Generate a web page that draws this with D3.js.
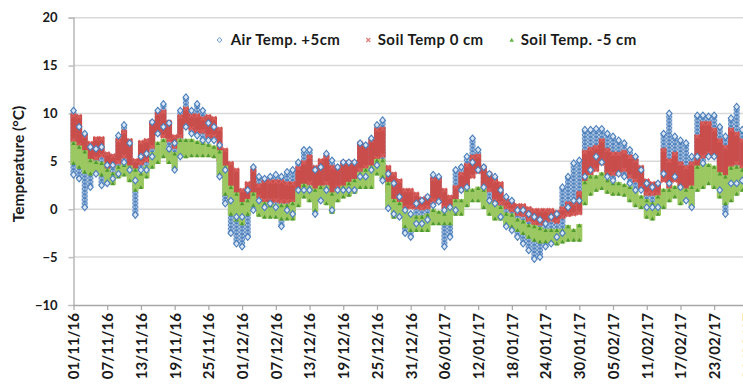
<!DOCTYPE html>
<html>
<head>
<meta charset="utf-8">
<script src="https://cdn.jsdelivr.net/npm/d3@7"></script>
<style>
  html, body { margin: 0; padding: 0; background: #fff; overflow: hidden; }
  svg { display: block; font-family: Lato, "Open Sans", sans-serif; font-weight: bold; }
</style>
</head>
<body>
<svg id="chart" width="760" height="385"></svg>
<script>
// Daily temperature ranges (°C), one value per day from 01/11/16.
const startDate = "2016-11-01";

const airHi = [10.3, 8.6, 7.9, 6.5, 6.3, 6.5, 4.6, 4.6, 7.7, 8.8,
  6.9, 3.0, 5.5, 5.8, 9.1, 10.3, 11.0, 9.0, 6.9, 10.3,
  11.7, 10.3, 11.0, 10.3, 9.0, 8.6, 6.7, 4.1, 0.9, -0.8,
  -0.8, 2.0, 4.4, 3.4, 3.2, 3.4, 3.6, 3.4, 3.9, 4.1,
  4.9, 6.2, 6.2, 4.1, 4.4, 5.8, 5.1, 4.4, 4.9, 4.9,
  4.9, 6.9, 6.7, 7.4, 8.8, 9.3, 3.7, 2.7, 1.3, -0.1,
  -0.5, 0.6, 0.9, 1.3, 3.6, 3.4, -0.1, 0.2, 4.1, 4.4,
  5.5, 7.4, 6.2, 4.4, 3.7, 3.4, 2.0, 1.3, 0.9, -0.1,
  -0.1, -0.5, -0.8, -1.1, -1.5, -0.8, -0.5, 2.3, 3.4, 4.8,
  5.1, 8.3, 8.3, 8.4, 8.4, 7.9, 7.6, 7.2, 6.9, 6.2,
  5.5, 4.1, 2.7, 2.3, 2.7, 7.9, 10.0, 7.6, 7.2, 6.9,
  5.5, 9.8, 9.8, 9.7, 9.8, 8.6, 7.6, 9.5, 10.7, 8.3];

const airLo = [3.6, 3.2, 0.2, 2.3, 3.7, 2.5, 2.7, 3.2, 3.7, 4.9,
  4.1, -0.6, 4.1, 4.1, 5.5, 7.9, 8.6, 6.3, 4.1, 5.5,
  8.6, 7.9, 7.7, 7.2, 7.2, 7.2, 3.4, 0.6, -2.5, -3.6,
  -3.9, -2.9, -0.1, 0.9, 0.2, 0.6, 0.2, -1.8, -0.1, -0.5,
  2.0, 2.0, 2.0, -0.5, 0.9, 2.0, -0.1, 2.0, 2.0, 2.0,
  2.0, 3.4, 3.4, 4.1, 4.6, 3.0, 0.1, -0.5, -0.8, -2.5,
  -2.9, -1.5, -1.5, -1.1, 0.4, 0.8, -3.9, -2.9, -0.1, 2.0,
  2.3, 4.9, 4.1, 2.3, 0.9, 0.6, -0.8, -1.8, -2.2, -2.9,
  -3.6, -4.3, -5.2, -5.0, -3.9, -3.6, -2.9, -2.5, 0.2, 0.9,
  0.9, 3.4, 4.1, 5.5, 4.9, 3.4, 3.0, 3.7, 3.4, 2.7,
  2.0, 2.0, 0.2, 0.2, 0.2, 3.7, 2.7, 3.4, 2.3, 0.9,
  0.2, 5.5, 4.8, 5.5, 5.5, 2.0, -0.5, 2.7, 2.7, 3.0];

const soil0Hi = [9.8, 9.7, 7.7, 6.9, 7.4, 7.4, 5.8, 5.6, 7.2, 8.1,
  7.2, 5.1, 7.0, 7.2, 9.1, 10.0, 10.2, 9.1, 7.6, 9.7,
  10.5, 9.8, 9.8, 9.5, 9.7, 9.5, 8.4, 6.2, 4.8, 4.1,
  2.0, 2.7, 4.1, 2.5, 3.0, 2.9, 2.9, 2.9, 2.7, 2.7,
  4.3, 4.9, 5.5, 4.4, 5.1, 5.5, 4.4, 4.4, 4.9, 4.9,
  4.9, 6.9, 6.7, 7.2, 8.3, 8.4, 4.4, 3.7, 3.0, 2.0,
  2.0, 1.6, 1.1, 1.3, 3.2, 3.2, 2.0, 1.3, 2.3, 3.7,
  4.6, 5.5, 5.6, 4.4, 3.7, 3.0, 2.7, 0.9, 0.6, 0.4,
  0.4, 0.1, -0.1, -0.1, -0.1, -0.1, -0.3, 0.1, 0.6, 0.6,
  1.7, 6.0, 6.3, 6.5, 7.2, 6.2, 5.8, 5.8, 6.0, 5.5,
  5.1, 4.4, 3.0, 2.7, 2.7, 6.2, 5.1, 5.8, 4.8, 4.4,
  4.8, 7.6, 9.0, 9.0, 8.3, 7.2, 6.5, 8.3, 7.9, 7.2];

const soil0Lo = [7.2, 6.7, 4.9, 4.9, 5.3, 5.6, 4.3, 4.6, 4.9, 5.5,
  4.4, 3.9, 4.8, 5.1, 6.5, 7.9, 7.6, 7.2, 6.5, 7.6,
  8.6, 8.4, 8.1, 8.1, 7.6, 7.6, 5.1, 3.4, 0.6, -0.1,
  0.2, 0.9, 1.3, 1.3, 0.9, 0.9, 0.9, 0.8, 0.8, 0.8,
  1.8, 2.3, 2.7, 2.0, 2.3, 2.7, 1.6, 2.3, 2.3, 2.3,
  2.3, 4.1, 4.4, 4.4, 5.3, 5.6, 2.0, 0.9, 0.9, 0.2,
  0.2, 0.2, 0.1, 0.2, 0.9, 0.8, 0.2, -0.1, 0.6, 2.0,
  2.3, 3.4, 3.9, 2.3, 2.0, 0.9, 0.6, 0.2, -0.1, -0.5,
  -0.6, -1.1, -1.5, -1.5, -1.3, -1.1, -1.3, -0.8, -0.6, -0.5,
  -0.4, 2.5, 3.7, 4.1, 4.8, 3.7, 3.7, 3.7, 4.1, 3.4,
  3.0, 2.3, 1.6, 1.6, 1.5, 3.0, 2.3, 3.0, 2.3, 2.0,
  2.3, 4.1, 5.5, 5.8, 5.5, 3.7, 3.4, 4.4, 4.8, 4.4];

const soil5Hi = [6.9, 6.5, 6.0, 5.1, 4.9, 4.8, 4.1, 3.7, 4.4, 4.6,
  4.4, 4.1, 3.7, 4.4, 5.8, 6.9, 7.2, 6.2, 5.8, 7.2,
  7.2, 7.2, 7.0, 6.9, 6.7, 6.5, 6.0, 4.4, 2.3, 1.6,
  0.6, 0.9, 1.6, 0.9, 0.6, 0.4, 0.4, 0.4, 0.4, 0.6,
  2.0, 2.5, 2.3, 2.0, 2.3, 2.3, 1.6, 2.0, 2.3, 2.7,
  3.0, 3.7, 4.1, 4.4, 5.1, 5.1, 2.7, 0.9, 0.6, -0.1,
  -0.5, -0.8, -0.8, -0.6, -0.1, -0.3, -0.5, 0.2, 0.9, 0.9,
  2.0, 2.0, 2.2, 2.0, 0.9, 0.6, 0.2, -0.5, -0.6, -1.1,
  -1.3, -1.7, -1.8, -2.0, -2.2, -2.2, -2.2, -2.2, -1.8, -2.2,
  -1.7, 2.8, 3.4, 3.4, 3.7, 3.0, 2.7, 2.7, 2.5, 2.3,
  2.0, 1.3, 0.9, 0.6, 1.3, 2.0, 2.0, 2.3, 2.2, 2.0,
  2.3, 4.4, 4.8, 4.6, 4.4, 3.7, 3.4, 4.3, 4.4, 4.1];

const soil5Lo = [4.8, 4.4, 3.9, 3.7, 3.9, 3.6, 2.9, 2.7, 3.4, 3.6,
  3.0, 2.0, 2.3, 3.4, 4.4, 4.9, 5.5, 4.9, 4.4, 5.5,
  5.5, 5.6, 5.6, 5.6, 5.6, 5.5, 3.7, 1.6, -0.5, -1.1,
  -1.5, -0.5, 0.4, -0.6, -0.8, -0.8, -0.8, -1.0, -1.0, -1.0,
  0.4, 1.3, 0.9, -0.1, 0.9, 0.6, -0.3, 0.9, 1.3, 1.5,
  1.8, 2.3, 2.3, 2.3, 3.7, 3.4, 0.2, -0.8, -0.8, -1.8,
  -2.2, -2.2, -2.2, -2.2, -1.5, -1.5, -1.5, -1.5, -0.5, -0.5,
  0.4, 0.9, 0.9, 0.2, -0.5, -1.0, -1.0, -1.5, -1.8, -2.2,
  -2.5, -2.9, -3.2, -3.4, -3.4, -3.4, -3.6, -3.4, -3.2, -3.2,
  -3.2, 0.6, 1.6, 2.0, 2.2, 1.8, 1.6, 1.6, 1.5, 0.9,
  0.4, 0.2, -0.8, -1.0, -0.5, 0.2, 0.9, 1.3, 0.6, 0.9,
  0.4, 2.0, 2.3, 2.7, 2.3, 1.3, 0.6, 0.9, 1.6, 2.0];

const tickLabels = ["01/11/16", "07/11/16", "13/11/16", "19/11/16", "25/11/16",
  "01/12/16", "07/12/16", "13/12/16", "19/12/16", "25/12/16", "31/12/16",
  "06/01/17", "12/01/17", "18/01/17", "24/01/17", "30/01/17", "05/02/17",
  "11/02/17", "17/02/17", "23/02/17", "01/03/17"];

const yTicks = [-10, -5, 0, 5, 10, 15, 20];

const seriesNames = ["Air Temp. +5cm", "Soil Temp 0 cm", "Soil Temp. -5 cm"];

// ---------------------------------------------------------------------------
const svg = d3.select("#chart");
const parseIso = d3.utcParse("%Y-%m-%d");
const parseTick = d3.utcParse("%d/%m/%y");
const start = parseIso(startDate);
const days = d3.utcDay.range(start, d3.utcDay.offset(start, airHi.length));
const tickDates = tickLabels.map(parseTick);

const plotLeft = 73.5;
const x = d3.scaleUtc()
  .domain([start, d3.utcDay.offset(start, 120)])
  .range([plotLeft, 747.9]);
const y = d3.scaleLinear().domain([-10, 20]).range([305, 17.7]);
const dayW = x(days[1]) - x(days[0]);

// gridlines
svg.append("g")
  .selectAll("line")
  .data(yTicks.filter(v => v !== -10))
  .join("line")
  .attr("x1", plotLeft).attr("x2", 760)
  .attr("y1", d => y(d)).attr("y2", d => y(d))
  .attr("stroke", "#d9d9d9").attr("stroke-width", 1.5);

// y axis
const yAxis = svg.append("g")
  .attr("transform", `translate(${plotLeft},0)`)
  .call(d3.axisLeft(y).tickValues(yTicks).tickSize(5).tickPadding(4).tickFormat(d3.format("d")));
yAxis.select(".domain").attr("stroke", "#a6a6a6").attr("stroke-width", 1.2);
yAxis.selectAll(".tick line").attr("stroke", "#bfbfbf").attr("stroke-width", 1.5);
yAxis.selectAll(".tick text")
  .attr("font-family", "Lato, sans-serif").attr("font-weight", "bold")
  .attr("font-size", 13).attr("fill", "#1a1a1a").attr("x", -16);

// x axis
const xAxis = svg.append("g")
  .attr("transform", `translate(0,${y(-10)})`)
  .call(d3.axisBottom(x).tickValues(tickDates).tickSize(5)
    .tickFormat((d, i) => tickLabels[i]));
xAxis.select(".domain").attr("stroke", "#a6a6a6").attr("stroke-width", 1.5)
  .attr("d", `M${plotLeft},0.5H760`);
xAxis.selectAll(".tick line").attr("stroke", "#a6a6a6").attr("stroke-width", 1.2);
xAxis.selectAll(".tick text")
  .attr("font-family", "Lato, sans-serif").attr("font-weight", "bold")
  .attr("font-size", 15).attr("fill", "#1a1a1a")
  .attr("text-anchor", "end")
  .attr("transform", "rotate(-90)")
  .attr("x", -8).attr("y", 0).attr("dy", "0.36em");

// y title
svg.append("text")
  .attr("transform", "translate(19,164) rotate(-90)")
  .attr("text-anchor", "middle").attr("dy", "0.35em")
  .attr("font-size", 15.5).attr("fill", "#1a1a1a")
  .text("Temperature (°C)");

// ---------------------------------------------------------------------------
// marker shapes
const diamondPath = (cx, cy, hw, hh) => `M${cx},${cy - hh}L${cx + hw},${cy}L${cx},${cy + hh}L${cx - hw},${cy}Z`;
const crossPath = (cx, cy, r) => `M${cx - r},${cy - r}L${cx + r},${cy + r}M${cx - r},${cy + r}L${cx + r},${cy - r}`;
const triPath = (cx, cy, r) => `M${cx},${cy - r}L${cx + r},${cy + r * 0.8}L${cx - r},${cy + r * 0.8}Z`;

// stacked-diamond texture for the air temperature range
const defs = svg.append("defs");
const patH = 3.6;
const pat = defs.append("pattern")
  .attr("id", "airFill").attr("patternUnits", "userSpaceOnUse")
  .attr("x", x(days[0]) - dayW / 2).attr("y", 0)
  .attr("width", dayW).attr("height", patH);
pat.append("rect").attr("width", dayW).attr("height", patH).attr("fill", "#d6e2f3");
[-1, 0, 1].forEach(k => {
  pat.append("path")
    .attr("d", diamondPath(dayW / 2, patH / 2 + k * patH, 2.6, 3.1))
    .attr("fill", "none").attr("stroke", "#4a7ebb").attr("stroke-width", 1);
});

const rows = days.map((d, i) => ({
  date: d,
  airHi: airHi[i], airLo: airLo[i],
  s0Hi: soil0Hi[i], s0Lo: soil0Lo[i],
  s5Hi: soil5Hi[i], s5Lo: soil5Lo[i]
}));

const bandW = dayW + 0.4;

// Air temperature +5 cm: range band
const gAir = svg.append("g");
gAir.selectAll("rect").data(rows).join("rect")
  .attr("x", d => x(d.date) - bandW / 2).attr("width", bandW)
  .attr("y", d => y(d.airHi)).attr("height", d => y(d.airLo) - y(d.airHi))
  .attr("fill", "url(#airFill)");

// Soil temperature 0 cm
const gS0 = svg.append("g");
gS0.selectAll("rect").data(rows).join("rect")
  .attr("x", d => x(d.date) - bandW / 2).attr("width", bandW)
  .attr("y", d => y(d.s0Hi) - 1.5).attr("height", d => y(d.s0Lo) - y(d.s0Hi) + 3)
  .attr("fill", "#c94d4b");
gS0.selectAll("path").data(rows.flatMap(d => [[d.date, d.s0Hi], [d.date, d.s0Lo]])).join("path")
  .attr("d", d => crossPath(x(d[0]), y(d[1]), 2.2))
  .attr("stroke", "#d9605d").attr("stroke-width", 1.2).attr("fill", "none");

// Soil temperature -5 cm
const gS5 = svg.append("g");
gS5.selectAll("rect").data(rows).join("rect")
  .attr("x", d => x(d.date) - bandW / 2).attr("width", bandW)
  .attr("y", d => y(d.s5Hi) - 1.5).attr("height", d => y(d.s5Lo) - y(d.s5Hi) + 3)
  .attr("fill", "#9cc862");
gS5.selectAll("path").data(rows.flatMap(d => [[d.date, d.s5Hi], [d.date, d.s5Lo]])).join("path")
  .attr("d", d => triPath(x(d[0]), y(d[1]), 2.2))
  .attr("fill", "#4f9a31");

// Air temperature +5 cm: daily extreme markers, drawn on top
const gAirPts = svg.append("g");
gAirPts.selectAll("path").data(rows.flatMap(d => [[d.date, d.airHi], [d.date, d.airLo]])).join("path")
  .attr("d", d => diamondPath(x(d[0]), y(d[1]), 2.8, 3.3))
  .attr("fill", "#dbe6f4").attr("stroke", "#4a7ebb").attr("stroke-width", 1.1);

// ---------------------------------------------------------------------------
// legend
const legend = svg.append("g").attr("font-size", 15).attr("fill", "#1a1a1a")
  .attr("letter-spacing", "0.45px");
const legY = 40;
legend.append("path").attr("d", diamondPath(219.5, legY, 2.4, 2.8))
  .attr("fill", "#e6eef8").attr("stroke", "#7fa7d8").attr("stroke-width", 1);
legend.append("path").attr("d", crossPath(368.3, legY, 2))
  .attr("stroke", "#e07a78").attr("stroke-width", 1.2).attr("fill", "none");
legend.append("path").attr("d", triPath(511.7, legY, 2.2)).attr("fill", "#63b443");
[[230.7, 0], [377.7, 1], [520.7, 2]].forEach(([lx, i]) => {
  legend.append("text").attr("x", lx).attr("y", legY).attr("dy", "0.36em")
    .text(seriesNames[i]);
});
</script>
</body>
</html>
